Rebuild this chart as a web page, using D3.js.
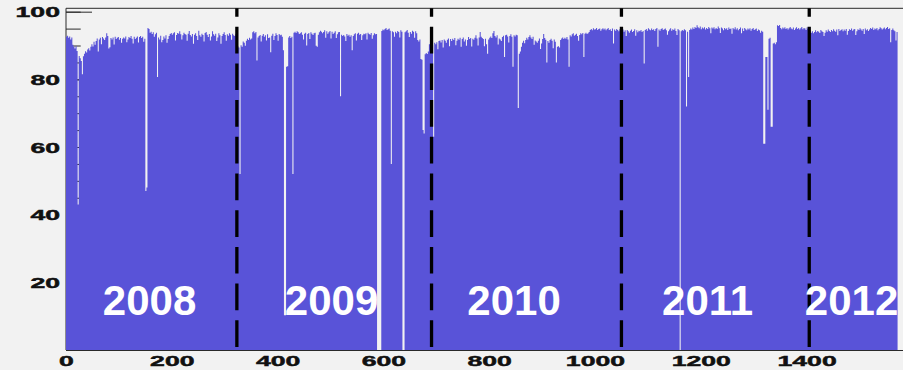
<!DOCTYPE html>
<html>
<head>
<meta charset="utf-8">
<script src="https://cdn.jsdelivr.net/npm/d3@7"></script>
<style>
  html, body { margin: 0; padding: 0; background: #f2f2f2; }
  svg { display: block; }
</style>
</head>
<body>
<svg id="chart" width="903" height="370"></svg>
<script>
// Histogram: one value per 2-unit bin, grouped by year.
const binWidth = 2;

const occ2008 = [
  92.6, 92.9, 92.3, 92.7, 91.8, 92.4, 90.2, 89.6, 89.1, 89.8, 88.4, 43, 86.9, 86.2, 85.4, 81.5, 86.8, 87.6, 88.3, 87.9,
  88.8, 89.2, 88.5, 89.6, 90.4, 89.7, 91.1, 90.2, 91.3, 92.1, 88.2, 91.8, 92.3, 90.4, 92.5, 92.1, 91.6, 92.4, 93.6, 92.8,
  89.1, 89.5, 92.2, 91.8, 92.4, 90.3, 92.6, 91.9, 92.3, 92.5, 91.7, 92.2, 90.8, 92.0, 92.4, 92.1, 92.7, 91.0, 91.8, 92.5,
  92.2, 92.8, 92.0, 90.6, 92.6, 91.9, 92.3, 92.7, 90.9, 92.5, 92.8, 92.2, 92.6, 91.1, 92.0, 47, 48, 95.2, 94.9, 93.8,
  94.1, 93.4, 93.9, 92.6, 93.3, 93.8, 80.7, 92.4, 91.8, 92.9, 91.0, 91.6, 92.7, 92.1, 93.0, 90.8, 91.9, 92.8, 93.4, 93.7,
  93.2, 93.6, 93.9, 91.5, 93.1, 93.7, 93.5, 94.2, 93.3, 91.8, 93.0, 93.8, 93.4, 93.2, 91.4, 93.5, 94.3, 93.1, 92.7, 93.4,
  90.5, 93.2, 93.6, 92.8, 91.6, 94.4, 93.0, 92.6, 93.5, 93.1, 91.2, 93.7, 94.0, 93.2, 92.5, 93.4, 91.5, 92.7, 94.2, 93.3,
  92.9, 93.5, 91.3, 92.4, 93.6, 93.0, 90.5, 92.8, 93.4, 93.9, 93.1, 91.4, 93.3, 92.9, 93.6, 93.2, 91.7, 93.5, 93.0, 92.8,
  93.3, 93.0
];

const occ2009 = [
  89.8, 89.4, 52, 90.1, 89.6, 91.2, 90.8, 89.9, 91.4, 92.0, 91.6, 92.3, 91.8, 92.1, 93.9, 94.2, 93.6, 94.0, 85.6, 92.4,
  92.8, 93.1, 91.2, 92.9, 93.4, 92.6, 93.0, 91.5, 93.3, 92.2, 92.4, 88.0, 92.9, 93.5, 91.6, 92.8, 93.6, 93.1, 91.4, 93.4,
  93.0, 93.2, 92.6, 88.6, 10.3, 10.3, 83.7, 83.9, 92.4, 92.8, 92.2, 92.6, 52, 93.8, 94.1, 93.7, 94.2, 93.9, 93.4, 93.6,
  93.9, 93.2, 91.8, 93.5, 93.8, 90.0, 93.4, 93.7, 91.9, 93.9, 93.5, 93.1, 93.6, 93.8, 89.9, 89.6, 93.2, 93.9, 94.4, 94.1,
  93.6, 94.0, 94.5, 92.3, 94.2, 93.5, 93.9, 94.3, 92.1, 94.1, 93.4, 93.8, 94.2, 92.2, 93.3, 93.9, 94.0, 75.0, 93.2, 92.8,
  93.1, 92.7, 91.3, 93.4, 92.9, 93.2, 92.6, 93.0, 88.6, 92.8, 93.3, 93.6, 91.5, 93.5, 93.8, 93.2, 93.4, 91.6, 93.0, 93.5,
  93.3, 93.6, 91.8, 93.8, 93.4, 93.2, 93.7, 92.0, 93.0, 93.6, 93.3, 93.4, 0, 0, 0, 0, 94.3, 94.7, 94.5, 94.9,
  95.2, 94.6, 94.8, 95.0, 94.4, 55.0, 94.2, 93.9, 92.6, 94.1, 93.6, 94.3, 94.0, 92.4, 94.5, 94.1, 0, 0, 93.9, 94.2,
  94.6, 93.8, 92.5, 94.0, 93.5, 94.4, 94.1, 92.3, 94.2, 93.6, 91.6, 91.2, 91.8, 86.0, 85.8, 65.0, 64.0, 87.4, 87.8, 87.5,
  88.2, 90.4, 90.6, 90.2
];

const occ2010 = [
  90.1, 63.0, 90.8, 90.4, 91.0, 88.9, 91.3, 91.5, 90.9, 91.6, 89.4, 91.8, 91.4, 90.8, 91.7, 92.1, 89.8, 91.9, 91.3, 92.0,
  91.6, 92.2, 90.1, 91.4, 92.0, 91.7, 92.3, 89.6, 91.9, 92.4, 91.2, 91.8, 89.9, 91.6, 92.5, 91.9, 92.2, 89.7, 92.0, 91.7,
  92.3, 93.0, 92.1, 90.0, 92.4, 94.0, 92.6, 92.2, 91.9, 89.8, 92.0, 90.4, 87.6, 91.8, 92.3, 92.7, 92.2, 93.6, 94.3, 92.8,
  92.4, 93.0, 90.3, 92.1, 91.8, 91.3, 92.5, 92.9, 86.6, 93.0, 93.2, 92.7, 90.9, 92.8, 93.3, 92.6, 83.7, 93.0, 92.7, 93.2,
  93.0, 71.5, 87.6, 88.2, 89.6, 90.8, 91.4, 90.7, 91.6, 92.3, 91.8, 92.5, 93.0, 92.4, 91.9, 92.6, 90.2, 91.5, 91.2, 90.8,
  91.4, 92.1, 89.0, 90.6, 91.9, 93.4, 92.2, 91.7, 85.0, 91.3, 90.8, 91.6, 92.0, 91.4, 89.2, 91.8, 91.1, 85.0, 89.6, 89.8,
  89.4, 91.6, 92.1, 92.4, 91.9, 92.3, 92.0, 92.5, 91.8, 83.7, 93.0, 92.7, 93.3, 93.6, 92.9, 93.2, 93.5, 92.8, 91.4, 93.1,
  93.6, 93.3, 93.7, 86.6, 93.5, 93.8, 93.4, 93.6, 94.0, 94.6, 94.9, 94.5, 95.1, 94.7, 94.8, 95.2, 94.6, 94.9, 95.0, 94.4,
  94.8, 95.1, 94.7, 95.0, 94.5, 94.9, 95.2, 94.6, 94.8, 94.3, 95.0, 90.6, 94.7, 94.4, 94.9, 94.6, 94.2, 94.8, 94.5
];

const occ2011 = [
  94.3, 94.7, 94.1, 94.5, 92.8, 94.6, 94.2, 93.8, 94.4, 94.7, 94.0, 94.3, 94.8, 92.9, 94.5, 93.9, 94.4, 94.2, 94.6, 94.0,
  94.3, 84.7, 94.6, 94.9, 94.4, 95.1, 94.7, 94.5, 95.0, 94.6, 94.8, 94.3, 94.9, 95.2, 89.6, 94.7, 94.4, 94.9, 95.1, 94.6,
  94.8, 95.0, 94.5, 93.2, 94.2, 94.7, 95.1, 94.4, 94.8, 94.6, 95.0, 94.3, 93.1, 94.9, 94.5, 0, 94.2, 94.6, 94.4, 94.8,
  94.5, 72.0, 94.1, 80.7, 94.6, 95.0, 94.7, 95.3, 94.9, 95.5, 95.2, 96.0, 95.4, 95.1, 95.6, 94.8, 95.3, 95.0, 95.4, 94.7,
  95.2, 94.9, 95.5, 95.1, 93.6, 95.3, 95.0, 95.4, 94.8, 95.2, 94.9, 95.6, 95.1, 93.7, 95.3, 95.0, 94.5, 95.2, 94.8, 95.1,
  94.6, 95.3, 94.9, 95.0, 93.5, 95.2, 94.8, 95.4, 94.7, 95.1, 94.5, 94.9, 95.3, 93.6, 95.0, 94.3, 95.2, 94.8, 94.5, 95.0,
  94.7, 95.1, 94.4, 94.9, 95.2, 94.6, 94.8, 95.0, 94.3, 94.7, 94.5, 93.8, 94.4, 94.1, 61.0, 61.0, 86.6, 86.6, 71.0, 92.0,
  92.3, 66.0, 66.0, 90.6, 90.8, 90.4, 91.0, 96.0, 95.8, 96.1, 95.2, 94.8, 95.3, 95.0, 95.4, 94.9, 95.2, 94.7, 95.1, 95.5,
  95.0, 94.8, 95.3, 94.6, 95.0, 95.4, 94.9, 95.2, 94.7, 95.1, 95.5, 94.8, 95.2, 95.0, 94.6, 95.3, 94.9, 95.1
];

const occ2012 = [
  94.4, 93.8, 94.2, 93.6, 94.0, 94.5, 93.9, 94.3, 94.1, 93.7, 94.6, 94.2, 94.0, 92.8, 93.8, 94.5, 94.1, 94.7, 94.3, 94.0,
  94.6, 94.2, 94.8, 94.4, 94.1, 94.7, 93.0, 94.9, 94.3, 94.6, 94.8, 94.2, 94.7, 94.4, 94.9, 93.2, 94.3, 94.8, 94.6, 95.0,
  94.4, 94.7, 94.9, 93.1, 94.2, 94.8, 94.6, 95.1, 94.7, 94.4, 94.9, 93.4, 95.0, 94.5, 94.8, 94.3, 94.7, 95.2, 94.9, 95.3,
  94.6, 95.0, 94.8, 95.2, 94.5, 94.9, 95.4, 95.1, 94.7, 95.0, 95.3, 94.8, 95.2, 95.5, 94.9, 95.1, 91.0, 94.6, 95.0, 94.5,
  94.2, 91.5, 94.0
];

const yearLabels = ["2008", "2009", "2010", "2011", "2012"];
const yearLabelCenters = [158, 502, 847, 1213, 1485];
const yearBoundaries = [323, 691, 1050, 1405];
const xTickValues = [0, 200, 400, 600, 800, 1000, 1200, 1400];
const yTickValues = [20, 40, 60, 80, 100];
const yMinorTickValues = d3.range(5, 101, 5);
const xMinorTickValues = d3.range(0, 1591, 50);

const values = [].concat(occ2008, occ2009, occ2010, occ2011, occ2012);

const svg = d3.select("#chart");
const x = d3.scaleLinear().domain([0, 1590]).range([66, 907.1]);
const y = d3.scaleLinear().domain([0, 101]).range([350, 8.3]);

const axisColor = "#2a2a2a";
const labelStretch = "scale(1.85,1)";
const labelFont = "bold 14.4px 'Liberation Sans', Arial, sans-serif";

// Minor and major tick marks sit underneath the histogram fill
svg.append("g")
  .attr("transform", `translate(${x(0)},0)`)
  .call(d3.axisLeft(y).tickValues(yMinorTickValues).tickSizeInner(-14.7).tickSizeOuter(0).tickFormat(""))
  .call(g => g.select(".domain").remove())
  .call(g => g.selectAll("line").attr("stroke", axisColor));

svg.append("g")
  .attr("transform", `translate(0,${y(0)})`)
  .call(d3.axisBottom(x).tickValues(xMinorTickValues).tickSizeInner(-6).tickSizeOuter(0).tickFormat(""))
  .call(g => g.select(".domain").remove())
  .call(g => g.selectAll("line").attr("stroke", axisColor));

const yAxis = svg.append("g")
  .attr("transform", `translate(${x(0)},0)`)
  .call(d3.axisLeft(y).tickValues(yTickValues).tickSizeInner(-26).tickSizeOuter(0).tickFormat(d3.format("d")))
  .call(g => g.select(".domain").remove());
yAxis.selectAll("line").attr("stroke", axisColor);
yAxis.selectAll("text")
  .attr("x", 0)
  .attr("dy", "0.36em")
  .attr("text-anchor", "end")
  .attr("transform", `translate(-6,0) ${labelStretch}`)
  .attr("fill", "#111")
  .attr("stroke", "#111")
  .attr("stroke-width", 0.45)
  .style("font", labelFont);

const xAxis = svg.append("g")
  .attr("transform", `translate(0,${y(0)})`)
  .call(d3.axisBottom(x).tickValues(xTickValues).tickSizeInner(-11).tickSizeOuter(0).tickFormat(d3.format("d")))
  .call(g => g.select(".domain").remove());
xAxis.selectAll("line").attr("stroke", axisColor);
xAxis.selectAll("text")
  .attr("y", 16)
  .attr("dy", 0)
  .attr("transform", labelStretch)
  .attr("fill", "#111")
  .attr("stroke", "#111")
  .attr("stroke-width", 0.45)
  .style("font", labelFont);

// Left axis line and top frame
svg.append("line")
  .attr("x1", x(0)).attr("x2", x(0))
  .attr("y1", y(101)).attr("y2", y(0))
  .attr("stroke", axisColor).attr("stroke-width", 1);
svg.append("line")
  .attr("x1", x(0)).attr("x2", x(1590))
  .attr("y1", y(101)).attr("y2", y(101))
  .attr("stroke", axisColor).attr("stroke-width", 1);

// Histogram fill drawn as one stepped area
const points = values.map((v, i) => ({ x0: i * binWidth, v }));
points.push({ x0: values.length * binWidth, v: values[values.length - 1] });

const area = d3.area()
  .x(d => x(d.x0))
  .y0(y(0))
  .y1(d => y(d.v))
  .curve(d3.curveStepAfter);

svg.append("path")
  .datum(points)
  .attr("d", area)
  .attr("fill", "#5953d8");

// Bottom axis line over the fill
svg.append("line")
  .attr("x1", x(0)).attr("x2", x(1590))
  .attr("y1", y(0) + 0.5).attr("y2", y(0) + 0.5)
  .attr("stroke", axisColor).attr("stroke-width", 1);

// Year separators
svg.append("g")
  .selectAll("line")
  .data(yearBoundaries)
  .join("line")
  .attr("x1", d => x(d)).attr("x2", d => x(d))
  .attr("y1", y(101)).attr("y2", y(0))
  .attr("stroke", "#000")
  .attr("stroke-width", 3.3)
  .attr("stroke-dasharray", "26.7 10")
  .attr("stroke-dashoffset", 18.3);

// Year labels
svg.append("g")
  .selectAll("text")
  .data(yearLabels)
  .join("text")
  .attr("x", (d, i) => x(yearLabelCenters[i]))
  .attr("y", 315)
  .attr("text-anchor", "middle")
  .attr("fill", "#fff")
  .style("font", "bold 42px 'Liberation Sans', Arial, sans-serif")
  .text(d => d);
</script>
</body>
</html>
